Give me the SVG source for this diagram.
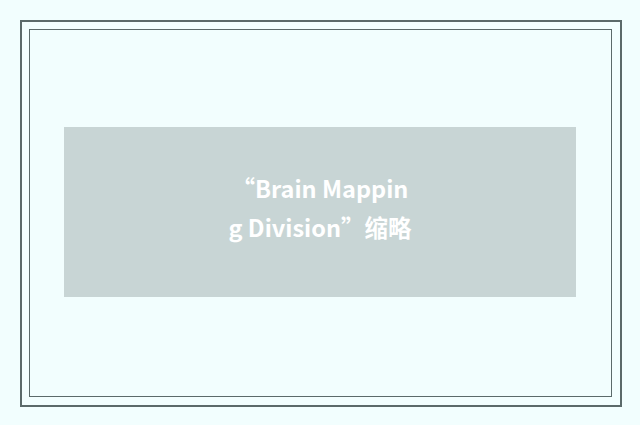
<svg xmlns="http://www.w3.org/2000/svg" width="640" height="425" viewBox="0 0 640 425">
<style>
.frame{fill:none;stroke:#5b6a6a}
.label{font-family:"Noto Sans CJK SC","Noto Sans",sans-serif;font-weight:bold;font-size:23.5px;fill:#ffffff;text-anchor:middle}
</style>
<rect x="0" y="0" width="640" height="425" fill="#f2fefe"/>
<rect class="frame" x="21" y="21" width="600" height="385" stroke-width="2"/>
<rect class="frame" x="29.5" y="29.5" width="582" height="367" stroke-width="1"/>
<g id="node1">
<rect x="64" y="127" width="512" height="170" fill="#c8d5d5"/>
<text class="label" x="320" y="198">“Brain Mappin</text>
<text class="label" x="320" y="237">g Division”缩略</text>
</g>
<g id="connectors"></g>
</svg>
